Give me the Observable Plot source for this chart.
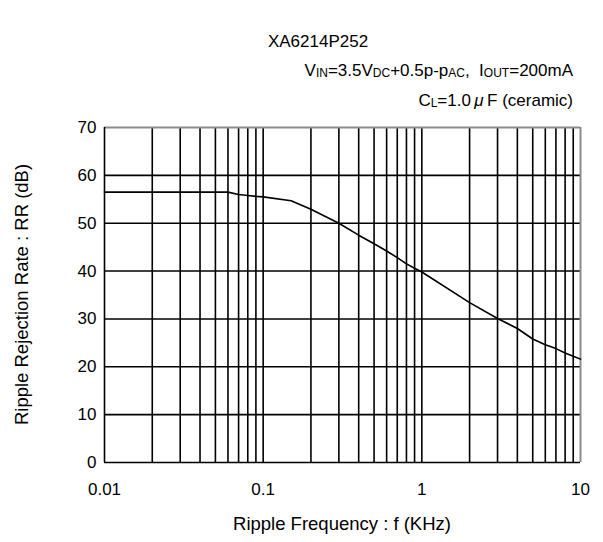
<!DOCTYPE html>
<html><head><meta charset="utf-8">
<script src="https://cdn.jsdelivr.net/npm/d3@7"></script>
<script src="https://cdn.jsdelivr.net/npm/@observablehq/plot@0.6"></script>
<style>
body{margin:0;background:#fff;}
svg{font-family:"Liberation Sans",Arial,sans-serif;}
</style>
</head><body><div id="chart"></div>
<script>
// Ripple frequency (kHz) and ripple rejection rate (dB)
const freq = [0.01, 0.02, 0.03, 0.04, 0.05, 0.06, 0.07, 0.08, 0.09, 0.1, 0.15, 0.2, 0.3, 0.4, 0.5, 0.6, 0.7, 0.8, 0.9, 1, 2, 3, 4, 5, 6, 7, 8, 9, 10];
const rr   = [56.5, 56.5, 56.5, 56.5, 56.5, 56.5, 56.0, 55.8, 55.6, 55.5, 54.7, 52.9, 50.0, 47.5, 45.7, 44.2, 42.8, 41.5, 40.6, 39.8, 33.4, 30.1, 28.0, 25.8, 24.6, 23.8, 22.9, 22.2, 21.6];

const xTicks = [0.01, 0.1, 1, 10];
const xTickLabels = ["0.01", "0.1", "1", "10"];
const yTicks = [0, 10, 20, 30, 40, 50, 60, 70];
const xGrid = [0.02, 0.03, 0.04, 0.05, 0.06, 0.07, 0.08, 0.09, 0.1,
               0.2, 0.3, 0.4, 0.5, 0.6, 0.7, 0.8, 0.9, 1,
               2, 3, 4, 5, 6, 7, 8, 9];

const title = "XA6214P252";
const xLabel = "Ripple Frequency : f (KHz)";
const yLabel = "Ripple Rejection Rate : RR (dB)";

const data = freq.map((f, i) => ({f, rr: rr[i]}));

const W = 603, H = 542;
const mL = 104, mR = 23, mT = 127, mB = 80;
const ff = '"Liberation Sans", Arial, sans-serif';

const chart = Plot.plot({
  width: W, height: H,
  marginLeft: mL, marginRight: mR, marginTop: mT, marginBottom: mB,
  style: {fontFamily: ff, fontSize: "17px", color: "#000", background: "#fff"},
  x: {type: "log", domain: [0.01, 10]},
  y: {domain: [0, 70]},
  marks: [
    Plot.ruleX(xGrid, {stroke: "#000", strokeWidth: 1.6}),
    Plot.ruleY(yTicks.filter(d => d > 0 && d < 70), {stroke: "#000", strokeWidth: 1.6}),
    Plot.ruleY([70], {stroke: "#8c8c8c", strokeWidth: 2}),
    Plot.ruleX([10], {stroke: "#8c8c8c", strokeWidth: 2}),
    Plot.ruleX([0.01], {stroke: "#000", strokeWidth: 1.6}),
    Plot.ruleY([0], {stroke: "#000", strokeWidth: 1.6}),
    Plot.line(data, {x: "f", y: "rr", stroke: "#000", strokeWidth: 1.6}),
    Plot.axisX({ticks: xTicks, tickFormat: d => xTickLabels[xTicks.indexOf(d)], tickSize: 0, tickPadding: 20, label: null, fontSize: 17}),
    Plot.axisY({ticks: yTicks, tickSize: 0, tickPadding: 8, label: null, fontSize: 17})
  ]
});

document.getElementById("chart").appendChild(chart);

const svg = d3.select(chart);

svg.append("text").attr("x", 318).attr("y", 47).attr("text-anchor", "middle")
  .attr("font-family", ff).attr("font-size", 17).attr("fill", "#000").text(title);

// subtitle line 1 with subscripts
const l1 = svg.append("text").attr("x", 573).attr("y", 76).attr("text-anchor", "end")
  .attr("font-family", ff).attr("font-size", 17).attr("fill", "#000");
const parts1 = [["V",0],["IN",1],["=3.5V",0],["DC",1],["+0.5p-p",0],["AC",1],[",\u00a0\u00a0I",0],["OUT",1],["=200mA",0]];
let shifted = false;
parts1.forEach(([t, sub]) => {
  const ts = l1.append("tspan").attr("font-size", sub ? 12 : 17).text(t);
  if (sub && !shifted) { ts.attr("dy", 1); shifted = true; }
  else if (!sub && shifted) { ts.attr("dy", -1); shifted = false; }
});

const l2 = svg.append("text").attr("x", 573).attr("y", 106).attr("text-anchor", "end")
  .attr("font-family", ff).attr("font-size", 17).attr("fill", "#000");
l2.append("tspan").text("C");
l2.append("tspan").attr("font-size", 12).attr("dy", 1).text("L");
l2.append("tspan").attr("dy", -1).text("=1.0\u2009");
l2.append("tspan").attr("font-style", "italic").text("\u03bc");
l2.append("tspan").text("\u2009F (ceramic)");

svg.append("text").attr("x", (mL + W - mR) / 2).attr("y", 530).attr("text-anchor", "middle")
  .attr("font-family", ff).attr("font-size", 18.5).attr("fill", "#000").text(xLabel);

svg.append("text").attr("transform", `translate(28,${(mT + H - mB) / 2}) rotate(-90)`).attr("text-anchor", "middle")
  .attr("font-family", ff).attr("font-size", 18.5).attr("fill", "#000").text(yLabel);
</script>
</body></html>
